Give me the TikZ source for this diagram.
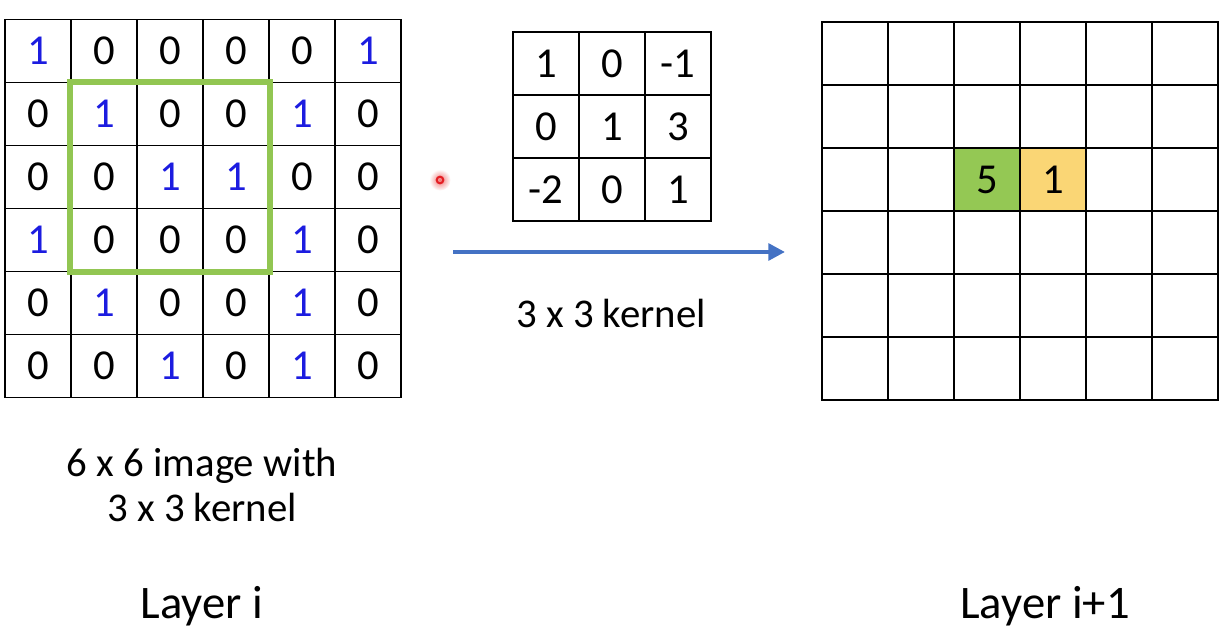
\documentclass[tikz,border=0pt]{standalone}
\usepackage{fontspec}
\setmainfont{Carlito}
\usetikzlibrary{arrows.meta}

\tikzset{every picture/.style={line width=0.75pt}}

\begin{document}
\begin{tikzpicture}[x=0.75pt,y=0.75pt,yscale=-1,xscale=1,
  cell/.style={draw, line width=1.1pt, minimum width=49.5pt, minimum height=47.25pt, inner sep=0pt, font=\fontsize{32}{38}\selectfont},
  val0/.style={text=black},
  val1/.style={text={rgb, 255:red, 28; green, 28; blue, 224}},
  kbox/.style={draw={rgb, 255:red, 146; green, 198; blue, 82}, line width=4.5pt},
  flow/.style={draw={rgb, 255:red, 68; green, 114; blue, 196}, line width=3pt, -{Triangle[length=12.5pt,width=12.5pt]}},
  caption/.style={anchor=base, inner sep=0.75pt, font=\fontsize{30.6}{36}\selectfont},
  layername/.style={anchor=base, inner sep=0.75pt, font=\fontsize{35}{42}\selectfont}]
\useasboundingbox (0,0) rectangle (1232,634);

%Shape: Grid [6 x 6 image]
\foreach \row [count=\r] in {{1,0,0,0,0,1},{0,1,0,0,1,0},{0,0,1,1,0,0},{1,0,0,0,1,0},{0,1,0,0,1,0},{0,0,1,0,1,0}}
  \foreach \v [count=\c] in \row
    \node [cell, val\v] (img-\r-\c) at (66*\c-28, 63*\r-12) {\v};
%Shape: Rectangle [kernel window]
\draw [kbox] (img-2-2.north west) rectangle (img-4-4.south east);

%Shape: Grid [3 x 3 kernel]
\foreach \row [count=\r] in {{1,0,-1},{0,1,3},{-2,0,1}}
  \foreach \v [count=\c] in \row
    \node [cell] (ker-\r-\c) at (66*\c+480, 63*\r+0.5) {\v};

%Shape: Grid [layer i+1]
\foreach \r in {1,...,6}
  \foreach \c in {1,...,6}
    \node [cell] (out-\r-\c) at (66*\c+789, 63*\r-9.5) {};
\node [cell, fill={rgb, 255:red, 148; green, 200; blue, 84}] (outfive) at (out-3-3) {5};
\node [cell, fill={rgb, 255:red, 250; green, 214; blue, 117}] (outone) at (out-3-4) {1};

%Straight Lines [convolution]
\coordinate (arrowstart) at (453,252);
\coordinate (arrowend) at (785,252);
\draw [flow] (arrowstart) -- (arrowend);

%Shape: Circle [pointer]
\node [circle, inner sep=0pt, minimum size=16pt, shading=radial, inner color={rgb, 255:red, 240; green, 120; blue, 120}, outer color=white] (pointer) at (440,180) {};
\node [circle, inner sep=0pt, minimum size=5pt, draw={rgb, 255:red, 228; green, 30; blue, 36}, line width=1.5pt] (pointerdot) at (pointer) {};

% Text Node
\node [caption] (kerlabel) at (611,328) {3 x 3 kernel};
% Text Node
\node [caption] (imgdesc1) at (202,477) {6 x 6 image with};
% Text Node
\node [caption] (imgdesc2) at (202,522) {3 x 3 kernel};
% Text Node
\node [layername] (layerin) at (202,618) {Layer i};
% Text Node
\node [layername] (layerout) at (1045,618) {Layer i+1};

\end{tikzpicture}
\end{document}
